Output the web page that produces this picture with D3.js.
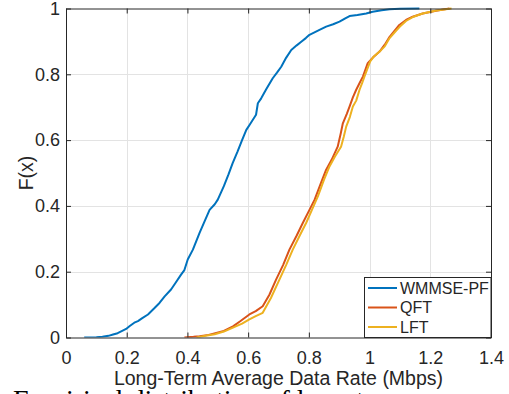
<!DOCTYPE html>
<html>
<head>
<meta charset="utf-8">
<script src="https://cdn.jsdelivr.net/npm/d3@7"></script>
<style>
  html, body { margin: 0; padding: 0; background: #fff; overflow: hidden; }
  svg { display: block; }
  .sans { font-family: "Liberation Sans", Arial, Helvetica, sans-serif; fill: #262626; }
  .serif { font-family: "Liberation Serif", "Times New Roman", serif; fill: #000; }
</style>
</head>
<body>
<svg id="chart" width="509" height="394"></svg>
<script>
// ---- data ----
const seriesNames = ["WMMSE-PF", "QFT", "LFT"];
const seriesColors = ["#0072BD", "#D95319", "#EDB120"];

const wmmseX = [0.06, 0.10, 0.12, 0.14, 0.155, 0.17, 0.185, 0.198, 0.21, 0.225, 0.237, 0.25, 0.27, 0.29, 0.308, 0.325, 0.346, 0.36, 0.379, 0.39, 0.401, 0.418, 0.44, 0.455, 0.473, 0.49, 0.5, 0.52, 0.535, 0.549, 0.565, 0.58, 0.594, 0.604, 0.626, 0.632, 0.643, 0.66, 0.681, 0.695, 0.709, 0.725, 0.742, 0.76, 0.775, 0.79, 0.802, 0.835, 0.857, 0.88, 0.901, 0.92, 0.934, 0.96, 0.989, 1.01, 1.04, 1.066, 1.1, 1.164];
const wmmseF = [0, 0.001, 0.002, 0.005, 0.009, 0.013, 0.02, 0.026, 0.035, 0.045, 0.05, 0.058, 0.07, 0.088, 0.105, 0.125, 0.146, 0.165, 0.191, 0.205, 0.237, 0.267, 0.318, 0.35, 0.388, 0.405, 0.419, 0.46, 0.495, 0.53, 0.565, 0.6, 0.631, 0.645, 0.677, 0.712, 0.727, 0.755, 0.788, 0.805, 0.823, 0.85, 0.874, 0.888, 0.899, 0.91, 0.92, 0.935, 0.945, 0.952, 0.96, 0.97, 0.977, 0.98, 0.985, 0.99, 0.995, 0.998, 0.999, 1.0];

const qftX = [0.39, 0.42, 0.44, 0.47, 0.495, 0.52, 0.55, 0.575, 0.604, 0.625, 0.648, 0.67, 0.692, 0.715, 0.736, 0.76, 0.78, 0.802, 0.819, 0.84, 0.857, 0.875, 0.895, 0.905, 0.912, 0.925, 0.934, 0.945, 0.956, 0.968, 0.978, 0.994, 1.01, 1.033, 1.05, 1.066, 1.08, 1.098, 1.12, 1.142, 1.175, 1.219, 1.263];
const qftF = [0, 0.002, 0.004, 0.008, 0.014, 0.02, 0.034, 0.05, 0.07, 0.08, 0.095, 0.13, 0.176, 0.22, 0.267, 0.31, 0.348, 0.388, 0.419, 0.47, 0.51, 0.54, 0.58, 0.62, 0.651, 0.68, 0.702, 0.73, 0.753, 0.775, 0.793, 0.834, 0.85, 0.869, 0.89, 0.914, 0.93, 0.95, 0.965, 0.975, 0.985, 0.993, 1.0];

const lftX = [0.43, 0.46, 0.49, 0.52, 0.55, 0.58, 0.604, 0.625, 0.648, 0.675, 0.703, 0.725, 0.747, 0.77, 0.791, 0.813, 0.83, 0.85, 0.868, 0.886, 0.906, 0.915, 0.923, 0.935, 0.945, 0.956, 0.967, 0.976, 0.983, 1.002, 1.015, 1.033, 1.05, 1.066, 1.085, 1.1, 1.12, 1.145, 1.175, 1.22, 1.27];
const lftF = [0, 0.005, 0.01, 0.018, 0.03, 0.042, 0.055, 0.065, 0.075, 0.12, 0.176, 0.22, 0.267, 0.31, 0.348, 0.394, 0.43, 0.48, 0.52, 0.55, 0.58, 0.61, 0.641, 0.67, 0.702, 0.72, 0.753, 0.775, 0.793, 0.839, 0.855, 0.869, 0.885, 0.91, 0.93, 0.945, 0.962, 0.975, 0.985, 0.994, 1.0];

const xTicks = [0, 0.2, 0.4, 0.6, 0.8, 1, 1.2, 1.4];
const yTicks = [0, 0.2, 0.4, 0.6, 0.8, 1];
const xLabel = "Long-Term Average Data Rate (Mbps)";
const yLabel = "F(x)";
const captionText = "Empirical distribution of long-term average rates";

// ---- drawing ----
const svg = d3.select("#chart");
const L = 66, R = 491, T = 8.5, B = 337.5;
const x = d3.scaleLinear().domain([0, 1.4]).range([L, R]);
const y = d3.scaleLinear().domain([0, 1]).range([B, T]);

// grid
const grid = svg.append("g");
grid.selectAll("line.gx").data(xTicks.slice(1, -1)).join("line")
  .attr("x1", d => Math.round(x(d)) + 0.5).attr("x2", d => Math.round(x(d)) + 0.5)
  .attr("y1", T).attr("y2", B).attr("stroke", "#e3e3e3").attr("stroke-width", 1);
grid.selectAll("line.gy").data(yTicks.slice(1, -1)).join("line")
  .attr("y1", d => Math.round(y(d)) + 0.5).attr("y2", d => Math.round(y(d)) + 0.5)
  .attr("x1", L).attr("x2", R).attr("stroke", "#e3e3e3").attr("stroke-width", 1);

// series
svg.append("defs").append("clipPath").attr("id", "clip")
  .append("rect").attr("x", L).attr("y", T - 2).attr("width", R - L).attr("height", B - T + 2);
const series = [
  { xs: wmmseX, fs: wmmseF },
  { xs: qftX, fs: qftF },
  { xs: lftX, fs: lftF }
];
const line = d3.line().x(d => x(d[0])).y(d => y(d[1]));
const lines = svg.append("g").attr("clip-path", "url(#clip)");
series.forEach((s, i) => {
  const pts = s.xs.map((v, j) => [v, s.fs[j]]);
  lines.append("path").attr("d", line(pts)).attr("fill", "none")
    .attr("stroke", seriesColors[i]).attr("stroke-width", 2)
    .attr("stroke-linejoin", "round");
});

// axes
const fmt = d => String(d);
const axB = svg.append("g").attr("transform", `translate(0,${B})`)
  .call(d3.axisBottom(x).tickValues(xTicks).tickFormat(fmt).tickSizeInner(-5).tickSizeOuter(0).tickPadding(14));
const axT = svg.append("g").attr("transform", `translate(0,${T})`)
  .call(d3.axisTop(x).tickValues(xTicks).tickFormat("").tickSizeInner(-5).tickSizeOuter(0));
const axL = svg.append("g").attr("transform", `translate(${L},0)`)
  .call(d3.axisLeft(y).tickValues(yTicks).tickFormat(fmt).tickSizeInner(-5).tickSizeOuter(0).tickPadding(6));
const axR = svg.append("g").attr("transform", `translate(${R},0)`)
  .call(d3.axisRight(y).tickValues(yTicks).tickFormat("").tickSizeInner(-5).tickSizeOuter(0));
[axB, axT, axL, axR].forEach(a => {
  a.selectAll(".domain").attr("stroke", "#262626");
  a.selectAll(".tick line").attr("stroke", "#262626");
  a.selectAll("text").attr("class", "sans").attr("font-size", 18);
});

// axis labels
svg.append("text").attr("class", "sans").attr("x", (L + R) / 2).attr("y", 385).attr("text-anchor", "middle")
  .attr("font-size", 19.5).text(xLabel);
svg.append("text").attr("class", "sans").attr("transform", `translate(33,${(T + B) / 2}) rotate(-90)`)
  .attr("text-anchor", "middle").attr("font-size", 19.5).text(yLabel);

// legend
const lg = svg.append("g");
const lgX0 = 364, lgY0 = 277;
lg.append("rect").attr("x", lgX0 + 0.5).attr("y", lgY0 + 0.5).attr("width", R - lgX0 - 0.5).attr("height", B - lgY0 - 0.5)
  .attr("fill", "#fff").attr("stroke", "#262626").attr("stroke-width", 1);
seriesNames.forEach((n, i) => {
  const cy = 288 + i * 19.5;
  lg.append("line").attr("x1", 368).attr("x2", 397).attr("y1", cy).attr("y2", cy)
    .attr("stroke", seriesColors[i]).attr("stroke-width", 2);
  lg.append("text").attr("class", "sans").attr("x", 400).attr("y", cy).attr("dy", "0.35em")
    .attr("font-size", 16).text(n);
});

// cropped caption below the figure (only the tops of its letters are visible)
svg.append("text").attr("class", "serif").attr("x", 13).attr("y", 409)
  .attr("font-size", 28).text(captionText);
</script>
</body>
</html>
